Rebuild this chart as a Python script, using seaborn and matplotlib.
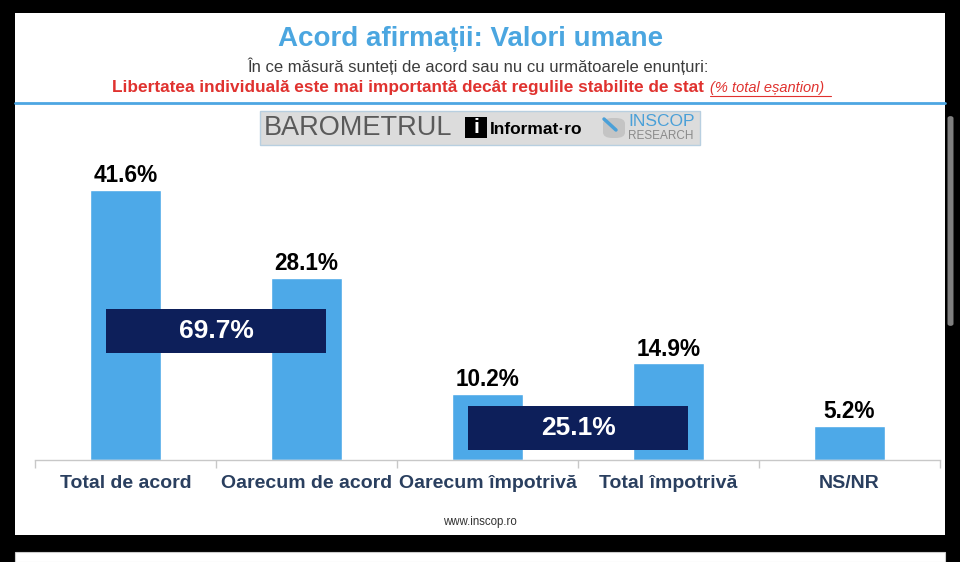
import matplotlib
matplotlib.use("Agg")
import matplotlib.pyplot as plt
import seaborn as sns
import pandas as pd
from matplotlib.patches import Rectangle, FancyBboxPatch
from matplotlib.lines import Line2D

# ------------------------- Data -------------------------
categories = ["Total de acord", "Oarecum de acord", "Oarecum împotrivă", "Total împotrivă", "NS/NR"]
values = [41.6, 28.1, 10.2, 14.9, 5.2]
totals = [69.7, 25.1]
total_pairs = [(0, 1), (2, 3)]

title = "Acord afirmații: Valori umane"
subtitle = "În ce măsură sunteți de acord sau nu cu următoarele enunțuri:"
statement = "Libertatea individuală este mai importantă decât regulile stabilite de stat"
base_note = "(% total eșantion)"
footer = "www.inscop.ro"

BAR_BLUE = "#4DA9E8"
NAVY = "#0D1F5A"
LABEL_COL = "#2A3F5F"
RED = "#E0322F"
TITLE_BLUE = "#4BA6E0"

W, H = 960, 562


def fx(x):
    return x / W


def fy(y):
    return 1 - y / H


sns.set_theme(style="white")
plt.rcParams["font.family"] = ["Liberation Sans", "DejaVu Sans"]

fig = plt.figure(figsize=(W / 100, H / 100), dpi=100)
fig.patch.set_facecolor("black")

# ------------------------- Screenshot panels -------------------------
fig.patches.append(Rectangle((fx(15), fy(535)), fx(930), 522 / H, transform=fig.transFigure,
                             facecolor="white", edgecolor="none", zorder=-2))
fig.patches.append(Rectangle((fx(15), fy(562)), fx(930), 10 / H, transform=fig.transFigure,
                             facecolor="white", edgecolor="#CCCCCC", lw=0.8, zorder=-2))
fig.patches.append(FancyBboxPatch((fx(947.5), fy(326)), fx(6), 210 / H, transform=fig.transFigure,
                                  boxstyle="round,pad=0,rounding_size=0.004",
                                  facecolor="#7F7F7F", edgecolor="none", zorder=-1))

# header
fig.text(fx(471), fy(39), title, ha="center", va="center", fontsize=20,
         fontweight="bold", color=TITLE_BLUE)
fig.text(fx(478), fy(66), subtitle, ha="center", va="center", fontsize=12, color="#3C3C3C")
fig.text(fx(704), fy(88), statement, ha="right", va="center", fontsize=12.4,
         fontweight="bold", color=RED)
fig.text(fx(710), fy(88), base_note, ha="left", va="center", fontsize=10.5,
         style="italic", color=RED)
fig.lines.append(Line2D([fx(710), fx(831)], [fy(96), fy(96)], transform=fig.transFigure,
                        color=RED, lw=0.8))
fig.lines.append(Line2D([fx(15), fx(945)], [fy(102.5), fy(102.5)], transform=fig.transFigure,
                        color="#4DA6E2", lw=2))

# logo strip
fig.patches.append(Rectangle((fx(260), fy(145)), fx(440), 34 / H, transform=fig.transFigure,
                             facecolor="#DCDCDC", edgecolor="#B8CFE0", lw=1, zorder=1))
fig.text(fx(264), fy(128), "BAROMETRUL", ha="left", va="center", fontsize=19.5,
         color="#5A5A5A", zorder=2)
fig.patches.append(Rectangle((fx(465), fy(138)), fx(22), 21 / H, transform=fig.transFigure,
                             facecolor="black", edgecolor="none", zorder=2))
fig.text(fx(476), fy(128), "i", ha="center", va="center", fontsize=15, fontweight="bold",
         color="white", zorder=3)
fig.text(fx(490), fy(129), "Informat·ro", ha="left", va="center", fontsize=12.5,
         fontweight="bold", color="black", zorder=2)
fig.patches.append(FancyBboxPatch((fx(603), fy(138)), fx(22), 20 / H, transform=fig.transFigure,
                                  boxstyle="round,pad=0,rounding_size=0.01",
                                  facecolor="#C4C4C4", edgecolor="none", zorder=2))
fig.lines.append(Line2D([fx(604), fx(616)], [fy(119), fy(130)], transform=fig.transFigure,
                        color="#4AA0D8", lw=2.5, zorder=3))
fig.text(fx(628), fy(122), "INSCOP", ha="left", va="center", fontsize=12.5,
         color="#4AA0D8", zorder=2)
fig.text(fx(628), fy(136), "RESEARCH", ha="left", va="center", fontsize=8.5,
         color="#8A8A8A", zorder=2)

fig.text(fx(480), fy(522), footer, ha="center", va="center", fontsize=8.3, color="#333333")

# ------------------------- Bars -------------------------
ax = fig.add_axes([fx(35), fy(460), fx(905), 324.5 / H])
ax.set_zorder(5)
ax.set_facecolor("none")
df = pd.DataFrame({"cat": categories, "val": values})
sns.barplot(data=df, x="cat", y="val", color=BAR_BLUE, saturation=1, width=0.387, ax=ax)
ax.set_xlim(-0.5, len(categories) - 0.5)
ax.set_ylim(0, 50)

for cont in ax.containers:
    ax.bar_label(cont, fmt="%.1f%%", padding=2, fontsize=16.3, fontweight="bold", color="black")

# totals boxes
for (i, j), tot in zip(total_pairs, totals):
    y0 = 16.5 if i == 0 else 1.6
    ax.add_patch(Rectangle((i - 0.11, y0), (j - i) + 0.22, 6.7, facecolor=NAVY,
                           edgecolor="none", zorder=5))
    ax.text((i + j) / 2, y0 + 3.35, f"{tot:.1f}%", ha="center", va="center",
            fontsize=19, fontweight="bold", color="white", zorder=6)

for side in ["top", "right", "left"]:
    ax.spines[side].set_visible(False)
ax.spines["bottom"].set_color("#C8C8C8")
ax.spines["bottom"].set_linewidth(1)
ax.set_yticks([])
ax.set_xlabel("")
ax.set_ylabel("")
ax.set_xticks(range(len(categories)))
ax.set_xticklabels(categories, fontsize=14, fontweight="bold", color=LABEL_COL)
ax.tick_params(axis="x", which="major", length=0, pad=11)
ax.set_xticks([k - 0.5 for k in range(len(categories) + 1)], minor=True)
ax.tick_params(axis="x", which="minor", length=6, color="#C8C8C8", width=1, direction="out",
               bottom=True)

fig.savefig("out.png", dpi=100, facecolor=fig.get_facecolor())
